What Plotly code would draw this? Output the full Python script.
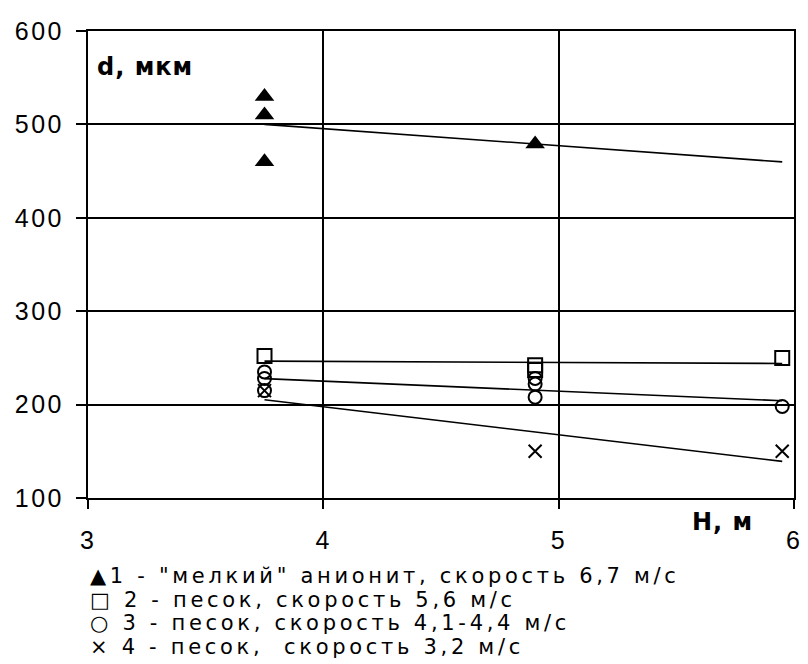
import numpy as np
import plotly.graph_objects as go

# Height of the layer H (m) and particle diameter d (µm) for four regimes
x_anion = [3.75, 3.75, 3.75, 4.9]
y_anion = [530, 510, 460, 479]

x_sand56 = [3.75, 4.9, 4.9, 5.95]
y_sand56 = [252, 242, 237, 250]

x_sand41 = [3.75, 3.75, 3.75, 4.9, 4.9, 4.9, 5.95]
y_sand41 = [235, 228, 215, 228, 222, 208, 198]

x_sand32 = [3.75, 4.9, 5.95]
y_sand32 = [215, 150, 150]

legend_lines = [
    "▲1 - \"мелкий\" анионит, скорость 6,7 м/с",
    "□ 2 - песок, скорость 5,6 м/с",
    "○ 3 - песок, скорость 4,1-4,4 м/с",
    "× 4 - песок,  скорость 3,2 м/с",
]

x_ticks = [3, 4, 5, 6]
y_ticks = [100, 200, 300, 400, 500, 600]

FONT = "DejaVu Sans"
TICK_FONT = "Liberation Sans"
W, H = 808, 664
ML, MR, MT, MB = 88, 6, 31, 166
PW, PH = W - ML - MR, H - MT - MB

fig = go.Figure()

series = [
    (x_anion, y_anion, dict(symbol="triangle-up", size=17, color="black")),
    (x_sand56, y_sand56, dict(symbol="square-open", size=14, color="black",
                              line=dict(width=2, color="black"))),
    (x_sand41, y_sand41, dict(symbol="circle-open", size=13, color="black",
                              line=dict(width=2, color="black"))),
    (x_sand32, y_sand32, dict(symbol="x-thin", size=13, color="black",
                              line=dict(width=2, color="black"))),
]

# linear trend lines over the measured span
x_fit = np.array([3.75, 5.95])
for xs, ys, _ in series:
    k, b = np.polyfit(xs, ys, 1)
    fig.add_trace(go.Scatter(x=x_fit, y=k * x_fit + b, mode="lines",
                             line=dict(color="black", width=1.6),
                             hoverinfo="skip", showlegend=False))

for xs, ys, mk in series:
    fig.add_trace(go.Scatter(x=xs, y=ys, mode="markers", marker=mk,
                             showlegend=False, cliponaxis=False))


def px_x(px):
    return (px - ML) / PW


def px_y(py):
    return (H - MB - py) / PH


def spaced(text, gap):
    return '<span style="letter-spacing:%spx">%s</span>' % (gap, text)


annotations = [
    dict(text="<b>" + spaced("d, мкм", 1) + "</b>", x=px_x(95), y=px_y(67),
         xanchor="left", yanchor="middle",
         font=dict(size=24, family=FONT, color="black")),
    dict(text="<b>" + spaced("H, м", 1) + "</b>", x=px_x(697), y=px_y(522),
         xanchor="left", yanchor="middle",
         font=dict(size=24, family=FONT, color="black")),
]
for i, line in enumerate(legend_lines):
    annotations.append(dict(
        text=spaced(line, 3.7),
        x=px_x(88), y=px_y(576 + 23.5 * i), xanchor="left", yanchor="middle",
        font=dict(size=21, family=FONT, color="black")))
for a in annotations:
    a.update(xref="paper", yref="paper", showarrow=False)

axis_common = dict(
    showgrid=True, gridcolor="black", gridwidth=2,
    showline=True, linecolor="black", linewidth=2, mirror=True,
    ticks="outside", tickcolor="black", tickwidth=2,
    zeroline=False,
    tickfont=dict(family=TICK_FONT, size=25, color="black"),
)

fig.update_layout(
    width=W, height=H,
    margin=dict(l=ML, r=MR, t=MT, b=MB),
    paper_bgcolor="white", plot_bgcolor="white",
    xaxis=dict(range=[3, 6], tickvals=x_ticks,
               ticktext=[spaced(str(v), 2) for v in x_ticks], ticklen=9,
               ticklabelstandoff=10, **axis_common),
    yaxis=dict(range=[100, 600], tickvals=y_ticks,
               ticktext=[spaced(str(v), 2.5) for v in y_ticks], ticklen=10,
               ticklabelstandoff=7, **axis_common),
    annotations=annotations,
)

fig.write_html("out.html")
